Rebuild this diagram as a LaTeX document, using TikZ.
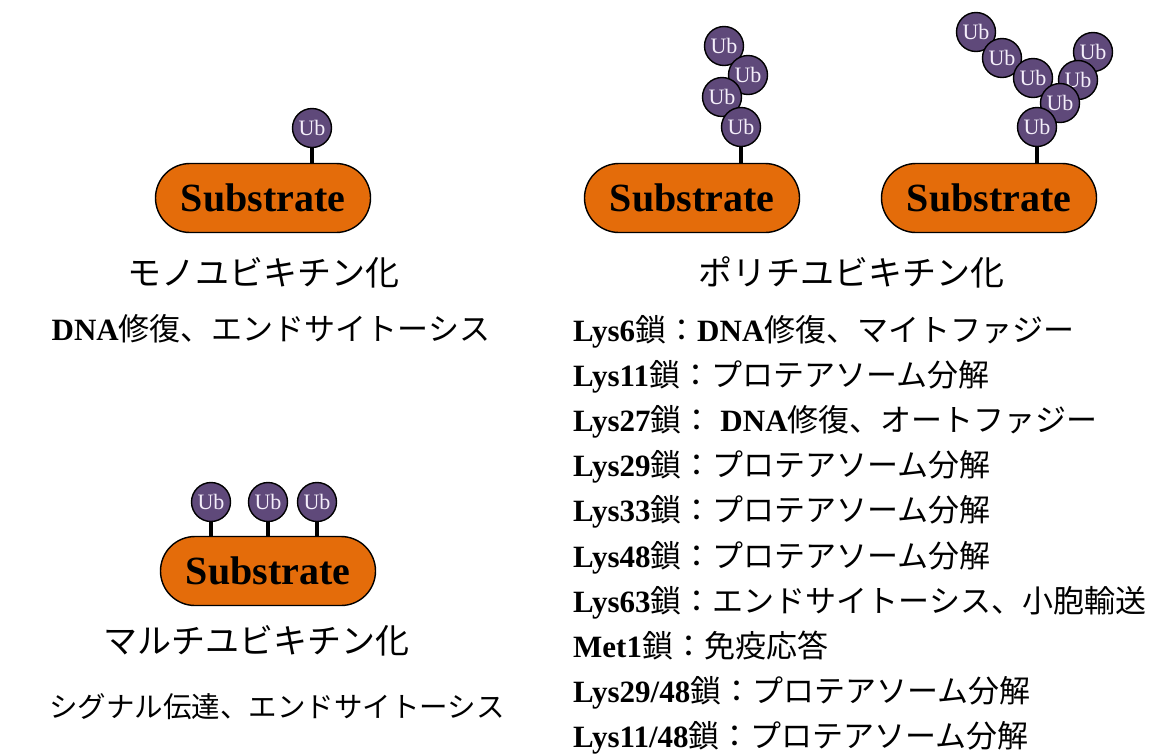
\documentclass[tikz,border=0pt]{standalone}
\usepackage{fontspec}
\setmainfont{Liberation Serif}
\newfontfamily\jp{Noto Sans CJK JP}
\definecolor{suborange}{HTML}{E46C0A}
\definecolor{ubpurple}{HTML}{5F497A}
\definecolor{ubtext}{HTML}{F4EEFA}
\newcommand{\B}[1]{{\bfseries #1}}
\newcommand{\J}[1]{{\jp #1}}
\begin{document}
\begin{tikzpicture}[x=1pt,y=-1pt,
  ub/.style={circle, draw=black, line width=1.4, fill=ubpurple, minimum size=39, inner sep=0pt,
             text=ubtext, font=\fontsize{22}{22}\selectfont},
  sub/.style={draw=black, line width=1.4, fill=suborange, rounded corners=34.5,
              minimum width=215, minimum height=69, inner sep=0pt,
              font=\fontsize{40}{40}\selectfont\bfseries},
  stick/.style={line width=4, black},
  title/.style={anchor=base, inner sep=0pt, font=\fontsize{34}{34}\selectfont\jp},
  desc/.style={anchor=base, inner sep=0pt, font=\fontsize{31}{31}\selectfont},
  item/.style={anchor=base west, inner sep=0pt, font=\fontsize{31}{31}\selectfont}]
\useasboundingbox (0,0) rectangle (1158,753);

% ---- mono
\node[sub] (s1) at (263,198) {Substrate};
\node[ub] (m1) at (312,128) {Ub};
\draw[stick] (m1.south) -- (m1.south |- s1.north);
\node[title] (t1) at (263,285) {モノユビキチン化};
\node[desc] (d1) at (271,340) {\B{DNA}\J{修復、エンドサイトーシス}};

% ---- multi
\node[sub] (s2) at (268,571) {Substrate};
\node[ub] (u1) at (211,502) {Ub};
\node[ub] (u2) at (268,502) {Ub};
\node[ub] (u3) at (317,502) {Ub};
\draw[stick] (u1.south) -- (u1.south |- s2.north);
\draw[stick] (u2.south) -- (u2.south |- s2.north);
\draw[stick] (u3.south) -- (u3.south |- s2.north);
\node[title] (t2) at (256,653) {マルチユビキチン化};
\node[desc, font=\fontsize{28.5}{28.5}\selectfont] (d2) at (277,717) {\J{シグナル伝達、エンドサイトーシス}};

% ---- poly linear
\node[sub] (s3) at (692,198) {Substrate};
\node[ub] (p4) at (724,46) {Ub};
\node[ub] (p3) at (748,75) {Ub};
\node[ub] (p2) at (722,97) {Ub};
\node[ub] (p1) at (741,127) {Ub};
\draw[stick] (p1.south) -- (p1.south |- s3.north);

% ---- poly branched
\node[sub] (s4) at (989,198) {Substrate};
\node[ub] (b5) at (976,32) {Ub};
\node[ub] (b4) at (1002,58) {Ub};
\node[ub] (b3) at (1033,78) {Ub};
\node[ub] (b7) at (1093,52) {Ub};
\node[ub] (b6) at (1078,80) {Ub};
\node[ub] (b2) at (1060,103) {Ub};
\node[ub] (b1) at (1037,127) {Ub};
\draw[stick] (b1.south) -- (b1.south |- s4.north);

\node[title] (t3) at (851,285) {ポリチユビキチン化};

% ---- list
\node[item] (l1)  at (573,341)   {\B{Lys6}\J{鎖：}\B{DNA}\J{修復、マイトファジー}};
\node[item] (l2)  at (573,386.2) {\B{Lys11}\J{鎖：プロテアソーム分解}};
\node[item] (l3)  at (573,431.4) {\B{Lys27}\J{鎖：} \B{DNA}\J{修復、オートファジー}};
\node[item] (l4)  at (573,476.6) {\B{Lys29}\J{鎖：プロテアソーム分解}};
\node[item] (l5)  at (573,521.8) {\B{Lys33}\J{鎖：プロテアソーム分解}};
\node[item] (l6)  at (573,567)   {\B{Lys48}\J{鎖：プロテアソーム分解}};
\node[item] (l7)  at (573,612.2) {\B{Lys63}\J{鎖：エンドサイトーシス、小胞輸送}};
\node[item] (l8)  at (573,657.4) {\B{Met1}\J{鎖：免疫応答}};
\node[item] (l9)  at (573,702.6) {\B{Lys29/48}\J{鎖：プロテアソーム分解}};
\node[item] (l10) at (573,747.8) {\B{Lys11/48}\J{鎖：プロテアソーム分解}};
\end{tikzpicture}
\end{document}
